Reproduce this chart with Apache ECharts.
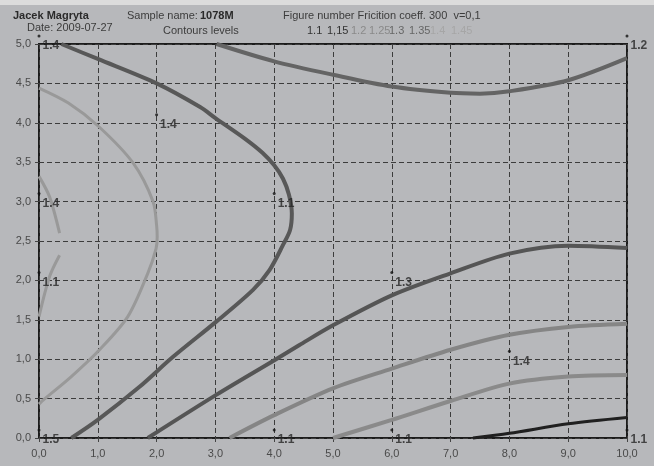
<!DOCTYPE html>
<html><head><meta charset="utf-8">
<script src="https://cdn.jsdelivr.net/npm/echarts@6/dist/echarts.min.js"></script>
<style>html,body{margin:0;padding:0;background:#b7b8bb;}#c{width:654px;height:466px;}</style>
</head><body><div id="c"></div>
<script>
// Tick labels
var xTicks = ['0,0','1,0','2,0','3,0','4,0','5,0','6,0','7,0','8,0','9,0','10,0'];
var yTicks = ['0,0','0,5','1,0','1,5','2,0','2,5','3,0','3,5','4,0','4,5','5,0'];

// Contour curves (x, y)
var cA_x = [0.38,1.0,2.0,2.74,3.0,3.5,3.8,4.0,4.15,4.25,4.30,4.27,4.15,3.92,3.64,3.02,2.28,1.71,1.0,0.55];
var cA_y = [5.0,4.81,4.50,4.20,4.06,3.80,3.62,3.46,3.29,3.09,2.85,2.64,2.45,2.13,1.88,1.48,1.03,0.65,0.23,0.0];
var cB_x = [3.02,4.0,5.0,6.0,7.0,7.5,8.0,9.0,10.0];
var cB_y = [5.0,4.78,4.61,4.46,4.38,4.37,4.40,4.54,4.82];
var cE_x = [1.85,3.02,4.01,4.43,5.0,6.0,7.0,8.0,9.0,10.0];
var cE_y = [0.0,0.55,0.99,1.18,1.43,1.81,2.09,2.34,2.44,2.41];
var cF_x = [3.24,4.0,5.0,6.0,7.0,8.0,9.0,10.0];
var cF_y = [0.0,0.29,0.63,0.88,1.12,1.31,1.41,1.45];
var cG_x = [5.0,6.0,7.0,8.0,9.0,10.0];
var cG_y = [0.0,0.23,0.47,0.69,0.78,0.80];
var cH_x = [7.38,8.0,9.0,10.0];
var cH_y = [0.0,0.06,0.18,0.26];
var cL_x = [0.0,0.5,1.02,1.6,1.94,2.0,2.01,1.99,1.85,1.51,1.03,0.55,0.07,0.0];
var cL_y = [4.44,4.25,3.95,3.49,3.00,2.70,2.55,2.40,2.09,1.54,1.12,0.78,0.48,0.43];
var cD1_x = [0.0,0.18,0.35];
var cD1_y = [3.32,3.06,2.60];
var cD2_x = [0.35,0.18,0.0];
var cD2_y = [2.32,2.05,1.54];

// Contour level labels
var lab_x = [0,2,4,0,0,6,8,0,4,6,10,10];
var lab_y = [5,4,3,3,2,2,1,0,0,0,0,5];
var lab_t = ['1.4','1.4','1.1','1.4','1.1','1.3','1.4','1.5','1.1','1.1','1.1','1.2'];

function pts(xs, ys){ return xs.map(function(x,i){ return [x, ys[i]]; }); }

var chart = echarts.init(document.getElementById('c'), null, {renderer:'canvas'});

function curve(xs, ys, color, w){
  return {type:'line', data: pts(xs, ys), showSymbol:false, smooth:0.3, clip:false,
    lineStyle:{color:color, width:w}, silent:true, z:3};
}

var labData = lab_x.map(function(x,i){ return {value:[x, lab_y[i]], name: lab_t[i]}; });

var option = {
  backgroundColor:'#b7b8bb',
  animation:false,
  grid:{left:39, right:27, top:44, bottom:28, show:true, borderColor:'#1c1c1c', borderWidth:2, backgroundColor:'transparent'},
  xAxis:{type:'value', min:0, max:10, interval:1,
    axisLine:{show:false},
    axisTick:{show:true, length:4, lineStyle:{color:'#444'}},
    axisLabel:{margin:10, color:'#4a4a4a', fontSize:11, fontFamily:'Liberation Sans, Arial',
      formatter:function(v){ return xTicks[Math.round(v)]; }},
    splitLine:{show:true, lineStyle:{color:'#3c3c3c', width:1, type:[5,3]}}},
  yAxis:{type:'value', min:0, max:5, interval:0.5,
    axisLine:{show:false},
    axisTick:{show:true, length:4, lineStyle:{color:'#444'}},
    axisLabel:{margin:8, color:'#4a4a4a', fontSize:11, fontFamily:'Liberation Sans, Arial',
      formatter:function(v){ return yTicks[Math.round(v*2)]; }},
    splitLine:{show:true, lineStyle:{color:'#3c3c3c', width:1, type:[5,3]}}},
  series:[
    curve(cA_x, cA_y, '#585858', 4),
    curve(cB_x, cB_y, '#646464', 4),
    curve(cE_x, cE_y, '#555555', 4),
    curve(cF_x, cF_y, '#858585', 4),
    curve(cG_x, cG_y, '#8a8a8a', 4),
    curve(cH_x, cH_y, '#202020', 3),
    curve(cL_x, cL_y, '#999999', 3),
    curve(cD1_x, cD1_y, '#999999', 3),
    curve(cD2_x, cD2_y, '#999999', 3),
    {type:'scatter', data: labData, symbol:'circle', symbolSize:3, symbolOffset:[0,-8], clip:false,
      itemStyle:{color:'#111'}, silent:true, z:5},
    {type:'scatter', data: labData, symbolSize:1, clip:false, itemStyle:{color:'rgba(0,0,0,0)'}, silent:true, z:6,
      label:{show:true, position:'right', distance:3, offset:[0,2], formatter:'{b}',
        color:'#262626', fontSize:12, fontWeight:'bold', fontFamily:'Liberation Sans, Arial'}}
  ],
  graphic:[
    {type:'rect', left:0, top:0, shape:{width:654, height:5}, style:{fill:'#dcdcdc'}},
    {type:'text', left:13, top:10, style:{text:'Jacek Magryta', font:'bold 11px Liberation Sans, Arial', fill:'#2a2a2a'}},
    {type:'text', left:27, top:22, style:{text:'Date: 2009-07-27', font:'11px Liberation Sans, Arial', fill:'#3c3c3c'}},
    {type:'text', left:127, top:10, style:{text:'Sample name:', font:'11px Liberation Sans, Arial', fill:'#3c3c3c'}},
    {type:'text', left:200, top:10, style:{text:'1078M', font:'bold 11px Liberation Sans, Arial', fill:'#2a2a2a'}},
    {type:'text', left:163, top:25, style:{text:'Contours levels', font:'11px Liberation Sans, Arial', fill:'#3c3c3c'}},
    {type:'text', left:283, top:10, style:{text:'Figure number Fricition coeff. 300  v=0,1', font:'11px Liberation Sans, Arial', fill:'#3c3c3c'}},
    {type:'text', left:307, top:25, style:{text:'1.1', font:'11px Liberation Sans, Arial', fill:'#333'}},
    {type:'text', left:327, top:25, style:{text:'1,15', font:'11px Liberation Sans, Arial', fill:'#333'}},
    {type:'text', left:351, top:25, style:{text:'1.2', font:'11px Liberation Sans, Arial', fill:'#8a8a8a'}},
    {type:'text', left:369, top:25, style:{text:'1.25', font:'11px Liberation Sans, Arial', fill:'#8a8a8a'}},
    {type:'text', left:389, top:25, style:{text:'1.3', font:'11px Liberation Sans, Arial', fill:'#666'}},
    {type:'text', left:409, top:25, style:{text:'1.35', font:'11px Liberation Sans, Arial', fill:'#666'}},
    {type:'text', left:430, top:25, style:{text:'1.4', font:'11px Liberation Sans, Arial', fill:'#a6a6a6'}},
    {type:'text', left:451, top:25, style:{text:'1.45', font:'11px Liberation Sans, Arial', fill:'#a6a6a6'}}
  ]
};
chart.setOption(option);
</script>
</body></html>
